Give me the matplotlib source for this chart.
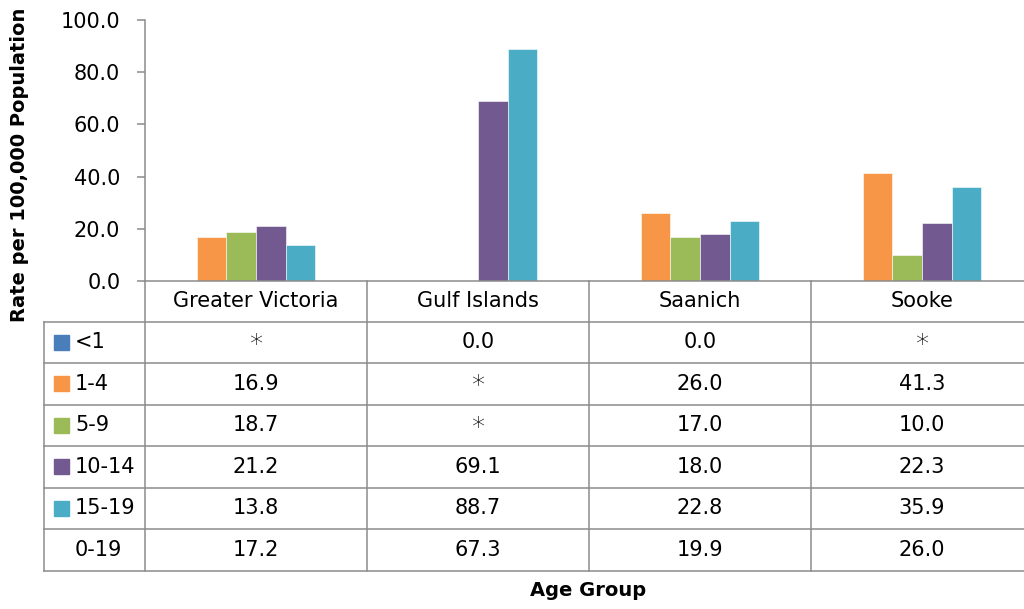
import matplotlib.pyplot as plt
from matplotlib.lines import Line2D
import matplotlib.transforms as mtransforms
import numpy as np

plt.rcParams['font.family'] = ['DejaVu Sans']

# data ("*" = suppressed, stored as None)
regions = ['Greater Victoria', 'Gulf Islands', 'Saanich', 'Sooke']
age_groups = ['<1', '1-4', '5-9', '10-14', '15-19', '0-19']
rate_lt1 = [None, 0.0, 0.0, None]
rate_1_4 = [16.9, None, 26.0, 41.3]
rate_5_9 = [18.7, None, 17.0, 10.0]
rate_10_14 = [21.2, 69.1, 18.0, 22.3]
rate_15_19 = [13.8, 88.7, 22.8, 35.9]
rate_0_19 = [17.2, 67.3, 19.9, 26.0]
yticks = [0, 20, 40, 60, 80, 100]

series = [rate_lt1, rate_1_4, rate_5_9, rate_10_14, rate_15_19, rate_0_19]
colors = ['#4A7EBB', '#F79646', '#9BBB59', '#72598F', '#4BACC6', None]
grid_col = '#8C8C8C'

W, H = 1024, 609
fig = plt.figure(figsize=(W / 100, H / 100), dpi=100)

def fx(px):
    return px / W

def fy(py):
    return 1 - py / H

# plot area: left 145px, y=0 at 281px, y=100 at 20px, category width 222px
ax = fig.add_axes([fx(145), fy(281), 4 * 222 / W, (281 - 20) / H])
x = np.arange(len(regions))
bw = 0.1333
for i, (vals, c) in enumerate(zip(series, colors)):
    if c is None:
        continue
    v = np.array([np.nan if a is None else a for a in vals], dtype=float)
    ax.bar(x + (i - 2.5) * bw, v, width=bw, color=c, edgecolor='white', linewidth=0.4)

ax.set_xlim(-0.5, len(regions) - 0.5)
ax.set_ylim(0, 100)
ax.set_yticks(yticks)
ax.set_yticklabels(['%.1f' % t for t in yticks], fontsize=15)
ax.set_xticks([])
ax.tick_params(axis='y', direction='out', length=5.8, width=1.1, color=grid_col, pad=12)
for s in ['top', 'right']:
    ax.spines[s].set_visible(False)
for s in ['left', 'bottom']:
    ax.spines[s].set_color(grid_col)
    ax.spines[s].set_linewidth(1.1)

# data table under the plot
row_top = 321.5
row_h = 41.5
table_bottom = row_top + row_h * len(age_groups)
blend = mtransforms.blended_transform_factory(ax.transData, fig.transFigure)

def hline(x0, x1, py):
    fig.add_artist(Line2D([fx(x0), fx(x1)], [fy(py), fy(py)], color=grid_col, lw=1.1))

def vline_fig(px, y0, y1):
    fig.add_artist(Line2D([fx(px), fx(px)], [fy(y0), fy(y1)], color=grid_col, lw=1.1))

for k in range(len(age_groups) + 1):
    hline(44, W, row_top + k * row_h)
vline_fig(44, row_top, table_bottom)
vline_fig(145, 281, table_bottom)
for j in range(1, len(regions)):
    fig.add_artist(Line2D([j - 0.5, j - 0.5], [fy(281), fy(table_bottom)],
                          color=grid_col, lw=1.1, transform=blend))

for j, name in enumerate(regions):
    fig.text(j, fy(301), name, transform=blend, ha='center', va='center', fontsize=15)

for r, (lab, vals, c) in enumerate(zip(age_groups, series, colors)):
    yc = row_top + (r + 0.5) * row_h
    if c is not None:
        fig.add_artist(plt.Rectangle((fx(54), fy(yc + 7.5)), 15 / W, 15 / H,
                                     color=c, transform=fig.transFigure))
    fig.text(fx(75), fy(yc), lab, ha='left', va='center', fontsize=15)
    for j, v in enumerate(vals):
        if v is None:
            fig.text(j, fy(yc + 3), '*', transform=blend, ha='center',
                     va='center', fontsize=19, fontweight=200)
        else:
            fig.text(j, fy(yc), '%.1f' % v, transform=blend, ha='center',
                     va='center', fontsize=15)

fig.text(fx(20), fy(165), 'Rate per 100,000 Population', rotation=90,
         ha='center', va='center', fontsize=14, fontweight='bold')
fig.text(fx(588), fy(591), 'Age Group', ha='center', va='center',
         fontsize=14, fontweight='bold')

fig.savefig('out.png', dpi=100)
